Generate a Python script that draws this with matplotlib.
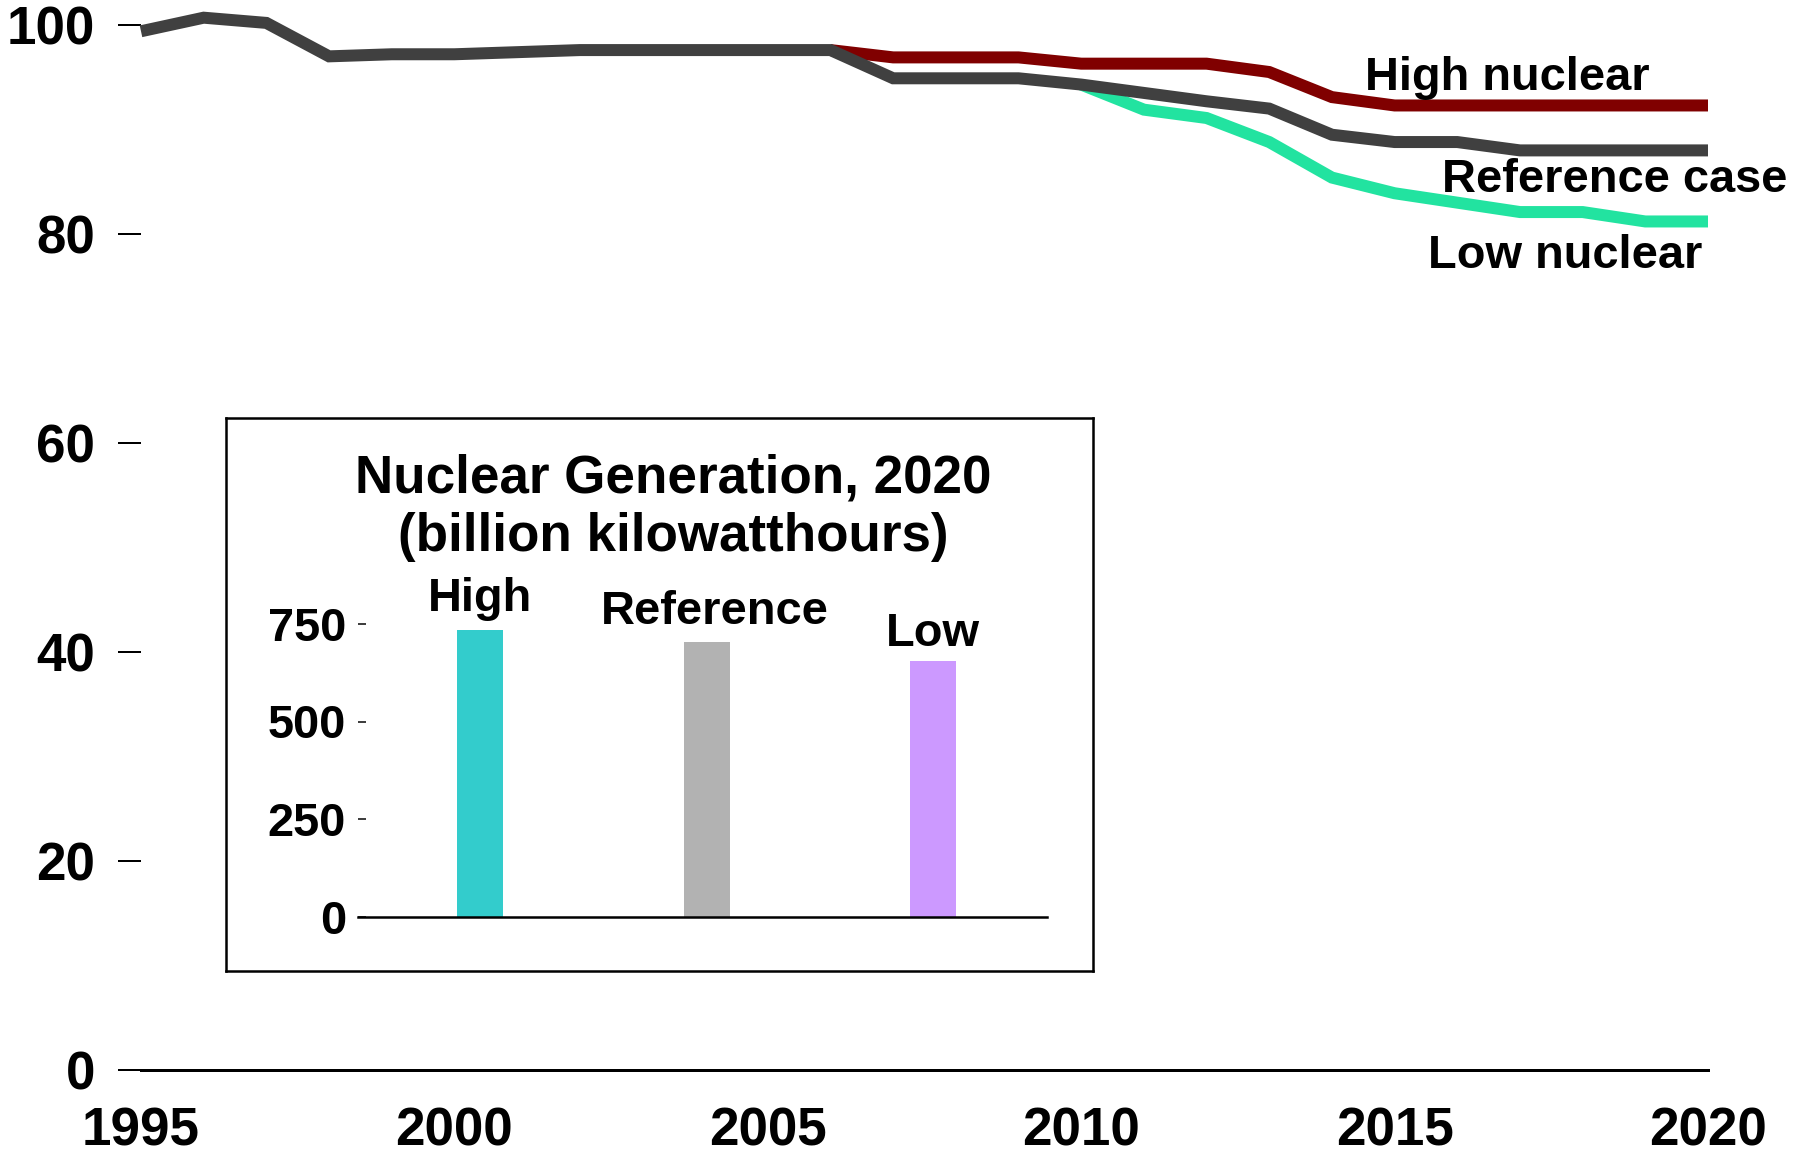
import matplotlib
matplotlib.use("Agg")
import matplotlib.pyplot as plt

# ---- data ----
years = list(range(1995, 2021))
ref_case = [99.4, 100.7, 100.2, 97.0, 97.2, 97.2, 97.4, 97.6, 97.6, 97.6,
            97.6, 97.6, 94.9, 94.9, 94.9, 94.3, 93.5, 92.7, 92.0, 89.5,
            88.8, 88.8, 88.0, 88.0, 88.0, 88.0]
high_years = list(range(2006, 2021))
high_case = [97.6, 96.9, 96.9, 96.9, 96.3, 96.3, 96.3, 95.5, 93.1, 92.3,
             92.3, 92.3, 92.3, 92.3, 92.3]
low_years = list(range(2010, 2021))
low_case = [94.3, 91.9, 91.1, 88.8, 85.4, 83.9, 83.0, 82.1, 82.1, 81.2, 81.2]

bar_cases = ['High', 'Reference', 'Low']
bar_values = [735, 703, 654]
bar_colors = ['#33cccc', '#b2b2b2', '#cc99ff']

x_ticks = [1995, 2000, 2005, 2010, 2015, 2020]
y_ticks = [0, 20, 40, 60, 80, 100]
inset_ticks = [0, 250, 500, 750]

plt.rcParams['font.family'] = ['Liberation Sans', 'DejaVu Sans']
plt.rcParams['font.weight'] = 'bold'

W, H = 1797, 1155
fig = plt.figure(figsize=(W / 72, H / 72), dpi=72)

#%% main line chart
ax = fig.add_axes([141 / W, 1 - 1070 / H, (1708 - 141) / W, (1070 - 25) / H])
lw = 12
ax.plot(high_years, high_case, color='#800000', lw=lw, clip_on=False,
        solid_capstyle='butt', solid_joinstyle='miter')
ax.plot(low_years, low_case, color='#22e3a0', lw=lw, clip_on=False,
        solid_capstyle='butt', solid_joinstyle='miter')
ax.plot(years, ref_case, color='#404040', lw=lw, clip_on=False,
        solid_capstyle='butt', solid_joinstyle='miter')

ax.set_xlim(1995, 2020)
ax.set_ylim(0, 100)
for s in ['left', 'right', 'top']:
    ax.spines[s].set_visible(False)
ax.spines['bottom'].set_linewidth(3)
ax.spines['bottom'].set_color('black')
ax.set_xticks(x_ticks)
ax.set_yticks(y_ticks)
ax.tick_params(axis='x', length=0, pad=37, labelsize=53)
ax.tick_params(axis='y', length=23, width=2, pad=23, labelsize=53,
               direction='out')

ax.text(2014.53, 93.8, 'High nuclear', fontsize=47, fontweight='bold',
        ha='left', va='baseline')
ax.text(2015.76, 84.0, 'Reference case', fontsize=47, fontweight='bold',
        ha='left', va='baseline')
ax.text(2015.53, 76.7, 'Low nuclear', fontsize=47, fontweight='bold',
        ha='left', va='baseline')

#%% inset frame
frame = fig.add_axes([225.8 / W, 1 - 970.7 / H, (1093.3 - 225.8) / W,
                      (970.7 - 418.3) / H])
frame.set_xticks([])
frame.set_yticks([])
for s in frame.spines.values():
    s.set_linewidth(2.5)
    s.set_color('black')

fig.text(673.5 / W, 1 - 492.3 / H, 'Nuclear Generation, 2020', fontsize=53,
         fontweight='bold', ha='center', va='baseline')
fig.text(673.5 / W, 1 - 550.8 / H, '(billion kilowatthours)', fontsize=53,
         fontweight='bold', ha='center', va='baseline')

#%% inset bars
axb = fig.add_axes([358 / W, 1 - 916.5 / H, (1047 - 358) / W,
                    (916.5 - 624) / H])
axb.patch.set_alpha(0)
xpos = range(len(bar_cases))
axb.bar(xpos, bar_values, width=0.203, color=bar_colors)
axb.set_xlim(-0.539, 2.503)
axb.set_ylim(0, 750)
for s in ['left', 'right', 'top']:
    axb.spines[s].set_visible(False)
axb.spines['bottom'].set_linewidth(2.5)
axb.set_xticks([])
axb.set_yticks(inset_ticks)
axb.tick_params(axis='y', length=8, width=1.5, direction='in', pad=12,
                labelsize=47)

offsets = [(0, 19), (8.5, 18), (0, 15.5)]
for i, (name, val) in enumerate(zip(bar_cases, bar_values)):
    axb.annotate(name, (i, val), xytext=offsets[i], textcoords='offset points',
                 ha='center', va='baseline', fontsize=47, fontweight='bold',
                 annotation_clip=False)

fig.savefig('out.png', dpi=72)
